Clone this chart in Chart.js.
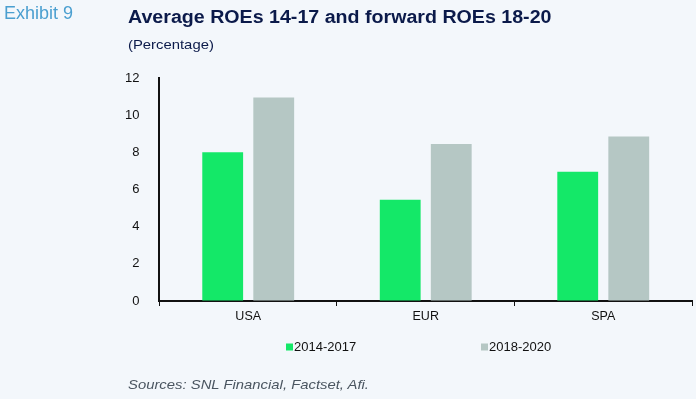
<!DOCTYPE html>
<html><head><meta charset="utf-8">
<script src="https://cdn.jsdelivr.net/npm/chart.js@4/dist/chart.umd.min.js"></script>
<style>
html,body{margin:0;padding:0;background:#f3f7fb;}
#wrap{position:relative;width:696px;height:399px;overflow:hidden;background:#f3f7fb;font-family:"Liberation Sans",Arial,sans-serif;}
#c{position:absolute;left:0;top:0;}
.t{position:absolute;white-space:nowrap;transform-origin:0 0;}
</style></head><body>
<div id="wrap">
<canvas id="c" width="696" height="399"></canvas>
<div class="t" style="left:4px;top:3px;font-size:18px;color:#4a9fd0;">Exhibit 9</div>
<div class="t" style="left:128px;top:7px;font-size:18px;font-weight:bold;color:#0b1a4a;transform:scaleX(1.09);">Average ROEs 14-17 and forward ROEs 18-20</div>
<div class="t" style="left:128px;top:37px;font-size:13.5px;color:#0b1a4a;transform:scaleX(1.1);">(Percentage)</div>
<div class="t" style="left:128px;top:377px;font-size:13.5px;font-style:italic;color:#4a5560;transform:scaleX(1.1);">Sources: SNL Financial, Factset, Afi.</div>
</div>
<script>
const categories = ["USA", "EUR", "SPA"];
const seriesNames = ["2014-2017", "2018-2020"];
const roe2014_2017 = [8.0, 5.45, 6.95];
const roe2018_2020 = [10.95, 8.45, 8.85];
const yTicks = [0, 2, 4, 6, 8, 10, 12];

const FONT = "'Liberation Sans', Arial, sans-serif";

const spreadLegend = {
  id: 'spreadLegend',
  afterDraw(chart) {
    const ctx = chart.ctx;
    const xs = [286, 481];
    const y = 347;
    ctx.save();
    ctx.font = "13px " + FONT;
    ctx.textBaseline = 'middle';
    ctx.textAlign = 'left';
    chart.data.datasets.forEach((ds, i) => {
      ctx.fillStyle = ds.backgroundColor;
      ctx.fillRect(xs[i], y - 3.5, 7, 7);
      ctx.fillStyle = '#111';
      ctx.fillText(ds.label, xs[i] + 8, y);
    });
    ctx.restore();
  }
};

new Chart(document.getElementById('c'), {
  type: 'bar',
  data: {
    labels: categories,
    datasets: [
      { label: seriesNames[0], data: roe2014_2017, backgroundColor: '#14e868', borderWidth: 0 },
      { label: seriesNames[1], data: roe2018_2020, backgroundColor: '#b5c7c4', borderWidth: 0 }
    ]
  },
  plugins: [spreadLegend],
  options: {
    responsive: false,
    animation: false,
    devicePixelRatio: 1,
    datasets: { bar: { categoryPercentage: 0.575, barPercentage: 0.8 } },
    layout: { padding: { left: 105, right: 4, top: 78, bottom: 72 } },
    plugins: {
      tooltip: { enabled: false },
      legend: { display: false }
    },
    scales: {
      x: {
        grid: { drawOnChartArea: false, offset: true, tickLength: 5, color: '#111', tickColor: '#111' },
        border: { color: '#111', width: 2 },
        ticks: { color: '#111', font: { family: FONT, size: 12.5 }, padding: 3 }
      },
      y: {
        min: 0, max: 12,
        afterBuildTicks: (s) => { s.ticks = yTicks.map(v => ({ value: v })); },
        grid: { drawOnChartArea: false, drawTicks: false },
        border: { color: '#111', width: 2 },
        ticks: { color: '#111', font: { family: FONT, size: 13 }, padding: 20 }
      }
    }
  }
});
</script>
</body></html>
